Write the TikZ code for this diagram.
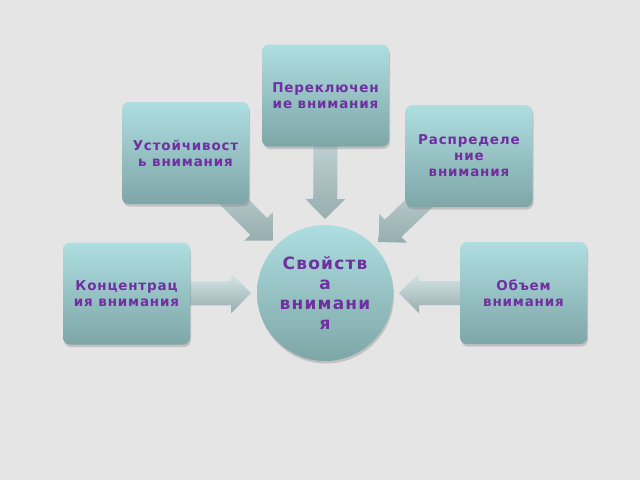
\documentclass[tikz,border=0pt]{standalone}
\usepackage{fontspec}
\usetikzlibrary{calc,shadows}
\newfontfamily\boxfont[LetterSpace=6]{DejaVu Sans}
\newfontfamily\circfont[LetterSpace=7]{DejaVu Sans}
\definecolor{bgc}{HTML}{E5E5E5}
\definecolor{boxtop}{HTML}{AEDEE1}
\definecolor{boxbot}{HTML}{7EA6A7}
\definecolor{txtc}{HTML}{7030A0}
\definecolor{arrtop}{HTML}{D6E6E7}
\definecolor{arrbot}{HTML}{97ADAF}
\tikzset{
  infobox/.style={rectangle, rounded corners=7pt, minimum width=127pt, minimum height=102pt,
    inner sep=0pt, top color=boxtop, bottom color=boxbot, align=center, text=txtc,
    font=\boxfont\bfseries\fontsize{13.5}{16}\selectfont,
    drop shadow={shadow xshift=1pt, shadow yshift=-2.5pt, opacity=0.35}},
  centrecirc/.style={circle, minimum size=136pt, inner sep=0pt, top color=boxtop, bottom color=boxbot,
    align=center, text=txtc, font=\circfont\bfseries\fontsize{17}{20}\selectfont,
    drop shadow={shadow xshift=1pt, shadow yshift=-2.5pt, opacity=0.35}},
  blockarr/.style={top color=arrtop, bottom color=arrbot, draw=none}
}
\newcommand\blkarrow[2]{%
  \coordinate (T) at ($(#2.center)!74pt!(#1.center)$);
  \coordinate (S) at (#1.center);
  \coordinate (B) at ($(T)!20pt!(S)$);
  \path[blockarr] ($(S)!12pt!90:(T)$) -- ($(B)!12pt!-90:(S)$) -- ($(B)!20pt!-90:(S)$) -- (T)
     -- ($(B)!20pt!90:(S)$) -- ($(B)!12pt!90:(S)$) -- ($(S)!12pt!-90:(T)$) -- cycle;
}
\begin{document}
\begin{tikzpicture}[x=1pt,y=-1pt]
\useasboundingbox (0,0) rectangle (640,480);
\fill[bgc] (0,0) rectangle (640,480);
\coordinate (ctop) at (325.5,95.5);
\coordinate (clt) at (185.5,153);
\coordinate (crt) at (469,156);
\coordinate (cl) at (126.5,293.5);
\coordinate (cr) at (523.5,293);
\coordinate (cc) at (325,293);
\blkarrow{ctop}{cc}
\blkarrow{clt}{cc}
\blkarrow{crt}{cc}
\blkarrow{cl}{cc}
\blkarrow{cr}{cc}
\node[infobox] (top) at (ctop) {Переключен\\ие внимания};
\node[infobox] (lt) at (clt) {Устойчивост\\ь внимания};
\node[infobox] (rt) at (crt) {Распределе\\ние\\внимания};
\node[infobox] (l) at (cl) {Концентрац\\ия внимания};
\node[infobox] (r) at (cr) {Объем\\внимания};
\node[centrecirc] (circ) at (cc) {Свойств\\а\\внимани\\я};
\end{tikzpicture}
\end{document}
